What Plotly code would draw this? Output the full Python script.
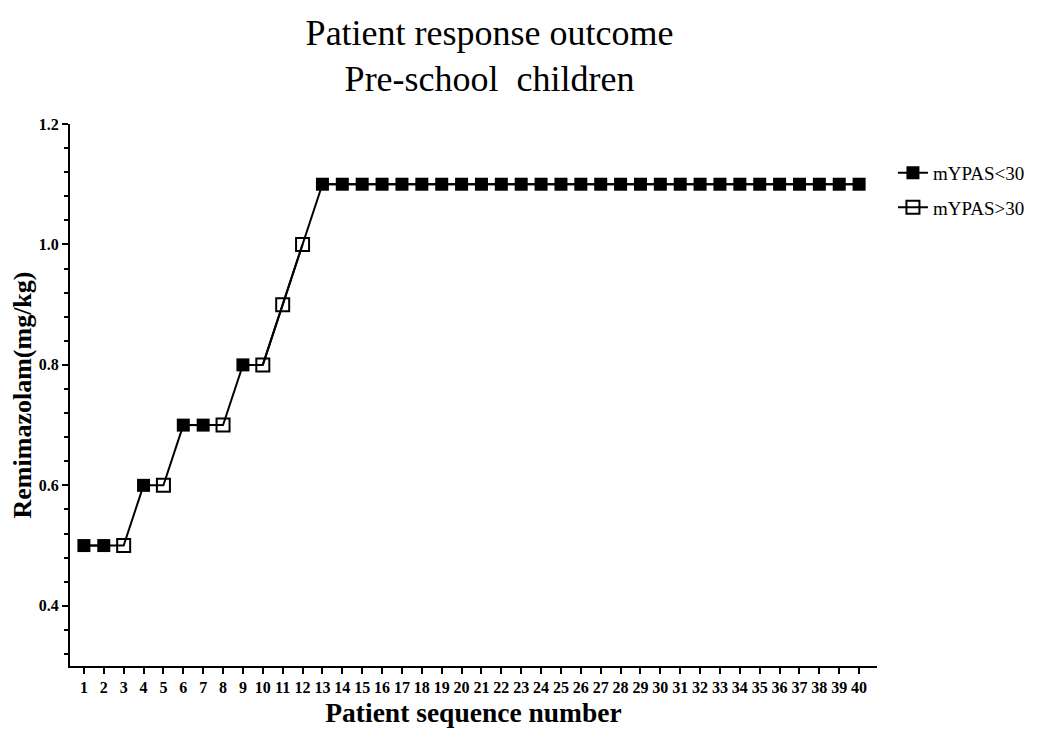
import plotly.graph_objects as go

# patient sequence and remimazolam dose (mg/kg)
patients = list(range(1, 41))
dose = [0.5, 0.5, 0.5, 0.6, 0.6, 0.7, 0.7, 0.7, 0.8, 0.8, 0.9, 1.0] + [1.1] * 28
# 1 = mYPAS<30 (filled), 0 = mYPAS>30 (open)
response = [1, 1, 0, 1, 0, 1, 1, 0, 1, 0, 0, 0] + [1] * 28

y_ticks = [0.4, 0.6, 0.8, 1.0, 1.2]

serif = "Liberation Serif, Times New Roman, serif"

filled_y = [d if r == 1 else None for d, r in zip(dose, response)]
open_y = [d if r == 0 else None for d, r in zip(dose, response)]

fig = go.Figure()

# full path behind the markers
fig.add_trace(go.Scatter(
        x=patients, y=dose, mode="lines",
        line=dict(color="black", width=2),
        showlegend=False, hoverinfo="skip"
))
fig.add_trace(go.Scatter(
        x=patients, y=filled_y, mode="lines+markers", name="mYPAS<30",
        connectgaps=False, legendgroup="a",
        line=dict(color="black", width=2),
        marker=dict(symbol="square", size=13, color="black")
))
fig.add_trace(go.Scatter(
        x=patients, y=open_y, mode="lines+markers", name="mYPAS>30",
        connectgaps=False, legendgroup="b",
        line=dict(color="black", width=2),
        marker=dict(symbol="square-open", size=13, color="black", line=dict(width=2))
))

fig.update_layout(
        width=1029, height=733,
        plot_bgcolor="white", paper_bgcolor="white",
        margin=dict(l=62, r=160, t=116, b=75),
        font=dict(family=serif, color="black"),
        title=dict(text="Patient response outcome<br>Pre-school  children",
                   x=0.468, xanchor="center", y=0.95, yanchor="middle",
                   font=dict(size=36, family=serif, color="black")),
        legend=dict(xref="container", x=0.86, y=0.945, xanchor="left", yanchor="top",
                    font=dict(size=19, family=serif, color="black"),
                    itemwidth=30, tracegroupgap=7),
        xaxis=dict(
                range=[0.3, 40.9], tickmode="array", tickvals=patients,
                ticktext=[f"<b>{p}</b>" for p in patients],
                showline=True, linecolor="black", linewidth=2,
                ticks="outside", ticklen=6, tickwidth=2, tickcolor="black",
                showgrid=False, zeroline=False, automargin=False,
                tickfont=dict(size=16, family=serif, color="black"),
                title=dict(text="<b>Patient sequence number</b>", standoff=8,
                           font=dict(size=27.5, family=serif, color="black"))
        ),
        yaxis=dict(
                range=[0.3, 1.2], tickmode="array", tickvals=y_ticks,
                ticktext=[f"<b>{v:.1f}</b>" for v in y_ticks],
                showline=True, linecolor="black", linewidth=2,
                ticks="outside", ticklen=6, tickwidth=2, tickcolor="black",
                minor=dict(dtick=0.04, tick0=0.0, ticks="outside", ticklen=4,
                           tickwidth=1.5, tickcolor="black", showgrid=False),
                showgrid=False, zeroline=False, automargin=False,
                tickfont=dict(size=16, family=serif, color="black"),
                title=dict(text="<b>Remimazolam(mg/kg)</b>", standoff=6,
                           font=dict(size=26, family=serif, color="black"))
        )
)

fig.write_html("out.html")
